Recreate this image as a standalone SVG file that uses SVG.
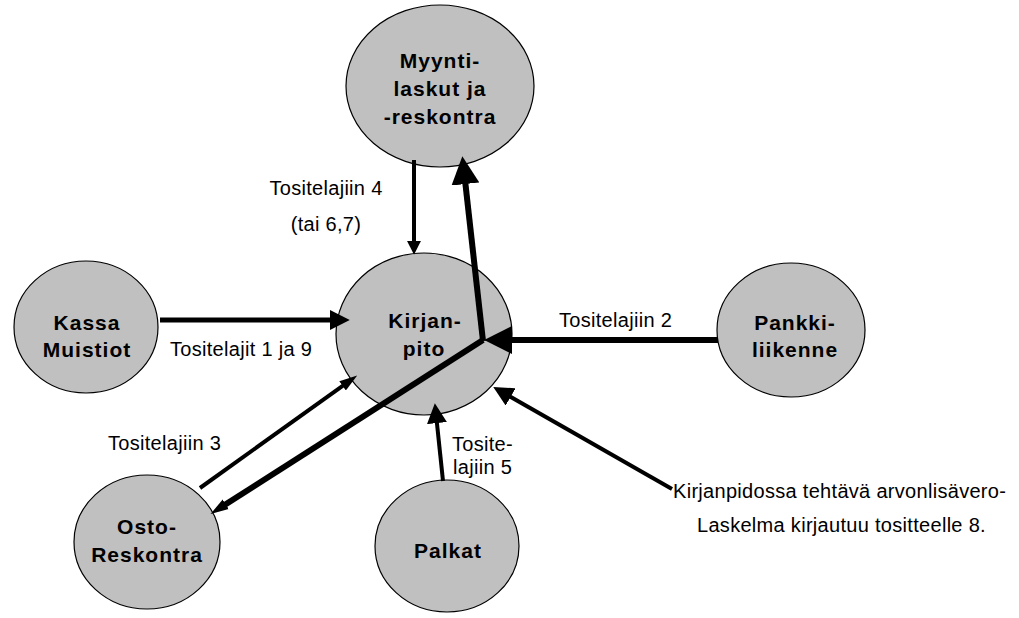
<svg xmlns="http://www.w3.org/2000/svg" width="1019" height="618" viewBox="0 0 1019 618">
  <style>
    .node ellipse { fill: #c0c0c0; stroke: #000; stroke-width: 1.2; }
    .node text { font-family: "Liberation Sans", Arial, sans-serif; font-weight: bold; font-size: 21px; letter-spacing: 1px; text-anchor: middle; fill: #000; }
    .edge { stroke: #000; fill: none; stroke-linecap: butt; }
    .thin { stroke-width: 4; }
    .mid { stroke-width: 5; }
    .thick { stroke-width: 6; }
    .label { font-family: "Liberation Sans", Arial, sans-serif; font-size: 20px; letter-spacing: 0.3px; fill: #000; }
  </style>
  <defs>
    <marker id="head-big" markerUnits="userSpaceOnUse" markerWidth="28" markerHeight="28" viewBox="0 0 26 26" refX="2" refY="13" orient="auto">
      <path d="M0,0 L26,13 L0,26 Z" fill="#000"/>
    </marker>
    <marker id="head-mid" markerUnits="userSpaceOnUse" markerWidth="20" markerHeight="20" viewBox="0 0 18 18" refX="2" refY="9" orient="auto">
      <path d="M0,0 L18,9 L0,18 Z" fill="#000"/>
    </marker>
    <marker id="head-small" markerUnits="userSpaceOnUse" markerWidth="14" markerHeight="14" viewBox="0 0 12 12" refX="1" refY="6" orient="auto">
      <path d="M0,0 L12,6 L0,12 Z" fill="#000"/>
    </marker>
    <marker id="head-slim" markerUnits="userSpaceOnUse" markerWidth="18" markerHeight="12" viewBox="0 0 16 10" refX="2" refY="5" orient="auto">
      <path d="M0,0 L16,5 L0,10 Z" fill="#000"/>
    </marker>
  </defs>

  <rect width="1019" height="618" fill="#fff"/>

  <!-- nodes -->
  <g id="myyntilaskut" class="node">
    <ellipse cx="440" cy="86" rx="94" ry="81"/>
    <text x="440" y="68">Myynti-</text>
    <text x="440" y="96">laskut ja</text>
    <text x="440" y="124">-reskontra</text>
  </g>
  <g id="kirjanpito" class="node">
    <ellipse cx="424" cy="334" rx="88" ry="81"/>
    <text x="425" y="328">Kirjan-</text>
    <text x="424" y="356">pito</text>
  </g>
  <g id="kassa" class="node">
    <ellipse cx="86" cy="327" rx="72" ry="66"/>
    <text x="87" y="330">Kassa</text>
    <text x="87" y="357">Muistiot</text>
  </g>
  <g id="pankkiliikenne" class="node">
    <ellipse cx="791" cy="330" rx="74" ry="67"/>
    <text x="795" y="330">Pankki-</text>
    <text x="795" y="357">liikenne</text>
  </g>
  <g id="ostoreskontra" class="node">
    <ellipse cx="147" cy="542" rx="73" ry="67"/>
    <text x="147" y="534">Osto-</text>
    <text x="147" y="562">Reskontra</text>
  </g>
  <g id="palkat" class="node">
    <ellipse cx="447" cy="546" rx="72" ry="66"/>
    <text x="448" y="558">Palkat</text>
  </g>

  <!-- connectors -->
  <g id="connectors">
    <line class="edge thin" x1="414" y1="160" x2="414" y2="242" marker-end="url(#head-small)"/>
    <line class="edge thick" x1="483" y1="341" x2="465.2" y2="181.9" marker-end="url(#head-big)"/>
    <line class="edge thick" x1="718" y1="340" x2="510" y2="340" marker-end="url(#head-big)"/>
    <line class="edge thick" x1="483" y1="340" x2="223.8" y2="505.5" marker-end="url(#head-slim)"/>
    <line class="edge thin" x1="200" y1="488" x2="344.4" y2="384.6" marker-end="url(#head-slim)"/>
    <line class="edge mid" x1="160" y1="320" x2="332" y2="320" marker-end="url(#head-mid)"/>
    <line class="edge thin" x1="443" y1="481" x2="436.7" y2="420.9" marker-end="url(#head-mid)"/>
    <line class="edge thin" x1="672" y1="489" x2="508.7" y2="395.8" marker-end="url(#head-mid)"/>
  </g>

  <!-- connector labels -->
  <g id="labels" class="label">
    <text x="326" y="195" text-anchor="middle">Tositelajiin 4</text>
    <text x="326" y="231" text-anchor="middle">(tai 6,7)</text>
    <text x="170" y="356">Tositelajit 1 ja 9</text>
    <text x="559" y="327">Tositelajiin 2</text>
    <text x="108" y="450">Tositelajiin 3</text>
    <text x="452" y="451">Tosite-</text>
    <text x="453" y="474">lajiin 5</text>
    <text x="673" y="498">Kirjanpidossa tehtävä arvonlisävero-</text>
    <text x="697" y="532">Laskelma kirjautuu tositteelle 8.</text>
  </g>
</svg>
